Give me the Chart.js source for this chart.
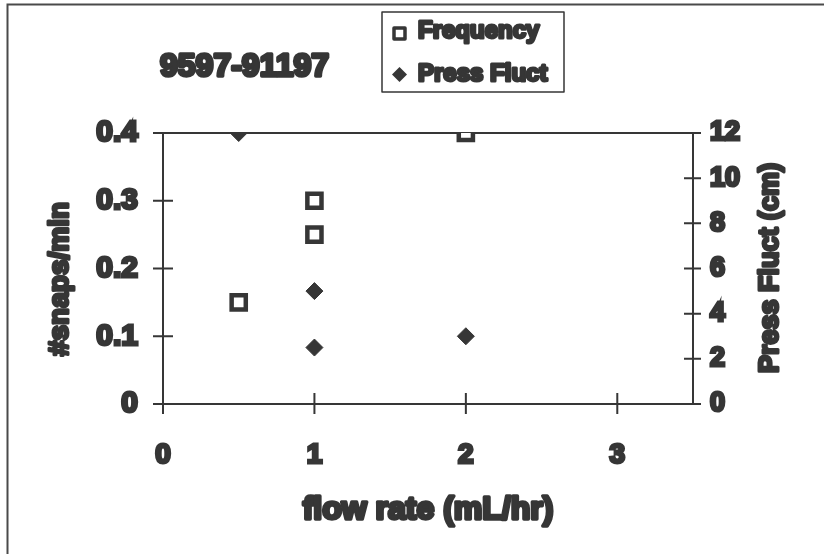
<!DOCTYPE html>
<html>
<head>
<meta charset="utf-8">
<script src="https://cdn.jsdelivr.net/npm/chart.js@4/dist/chart.umd.min.js"></script>
<style>
  html, body { margin: 0; padding: 0; background: #fff; }
  #wrap { width: 824px; height: 554px; position: relative; }
</style>
</head>
<body>
<div id="wrap"><canvas id="c" width="824" height="554"></canvas></div>
<script>
// Snap frequency and pressure fluctuation against flow rate
const flowFreq    = [0.5, 1, 1, 2];
const snapsPerMin = [0.15, 0.3, 0.25, 0.4];
const flowPress   = [0.5, 1, 1, 2];
const pressFluct  = [12, 5, 2.5, 3];

const xTickValues  = [0, 1, 2, 3];
const leftTickText = ['0', '0.1', '0.2', '0.3', '0.4'];
const rightTickValues = [0, 2, 4, 6, 8, 10, 12];

const chartTitle = '9597-91197';
const xTitle  = 'flow rate (mL/hr)';
const yTitle  = '#snaps/min';
const y2Title = 'Press Fluct (cm)';
const seriesNames = ['Frequency', 'Press Fluct'];

const INK = '#363636';
const FAMILY = '"Liberation Sans", Arial, sans-serif';

function heavyText(ctx, text, x, y, size, align, baseline, weight) {
  ctx.font = 'bold ' + size + 'px ' + FAMILY;
  ctx.textAlign = align;
  ctx.textBaseline = baseline;
  ctx.lineJoin = 'round';
  ctx.lineWidth = weight || 3;
  ctx.strokeStyle = INK;
  ctx.fillStyle = INK;
  ctx.strokeText(text, x, y);
  ctx.fillText(text, x, y);
}

// Box outline with ticks that cross the axis lines
const axesFrame = {
  id: 'axesFrame',
  beforeDatasetsDraw(chart) {
    const { ctx, chartArea: a, scales } = chart;
    ctx.save();
    ctx.strokeStyle = INK;
    ctx.lineWidth = 2;
    ctx.lineCap = 'square';
    ctx.strokeRect(a.left, a.top, a.right - a.left, a.bottom - a.top);
    ctx.beginPath();
    scales.x.ticks.forEach(t => {
      const px = scales.x.getPixelForValue(t.value);
      ctx.moveTo(px, a.bottom - (t.value === 0 ? 0 : 10));
      ctx.lineTo(px, a.bottom + 9);
    });
    scales.y.ticks.forEach(t => {
      const py = scales.y.getPixelForValue(t.value);
      ctx.moveTo(a.left - 9, py);
      ctx.lineTo(a.left + (py > a.top + 1 && py < a.bottom - 1 ? 9 : 0), py);
    });
    scales.y2.ticks.forEach(t => {
      const py = scales.y2.getPixelForValue(t.value);
      const inner = py > a.top + 1 && py < a.bottom - 1;
      ctx.moveTo(a.right - (inner ? 8 : 0), py);
      ctx.lineTo(a.right + 7, py);
    });
    ctx.stroke();
    ctx.restore();
  },
  afterDraw(chart) {
    const { ctx, chartArea: a } = chart;
    ctx.save();

    // outer page frame
    ctx.strokeStyle = '#4a4a4a';
    ctx.lineWidth = 2;
    ctx.beginPath();
    ctx.moveTo(7.5, 554);
    ctx.lineTo(7.5, 4.5);
    ctx.lineTo(824, 4.5);
    ctx.stroke();

    // run title
    heavyText(ctx, chartTitle, 160, 76, 32, 'left', 'alphabetic', 3.5);

    // axis titles
    heavyText(ctx, xTitle, (a.left + a.right) / 2, 510, 32, 'center', 'middle', 3.5);
    ctx.save();
    ctx.translate(60, 279);
    ctx.rotate(-Math.PI / 2);
    heavyText(ctx, yTitle, 0, 0, 28, 'center', 'middle', 3);
    ctx.restore();
    ctx.save();
    ctx.translate(771, 268);
    ctx.rotate(-Math.PI / 2);
    heavyText(ctx, y2Title, 0, 0, 27, 'center', 'middle', 3);
    ctx.restore();

    // legend box
    ctx.strokeStyle = INK;
    ctx.lineWidth = 1.5;
    ctx.strokeRect(382, 12, 182, 80);
    const ds = chart.data.datasets;
    // square marker
    ctx.lineWidth = 3.5;
    ctx.strokeStyle = ds[0].borderColor;
    ctx.fillStyle = ds[0].backgroundColor;
    ctx.fillRect(394, 28, 11, 11);
    ctx.strokeRect(394, 28, 11, 11);
    // diamond marker
    ctx.fillStyle = ds[1].backgroundColor;
    ctx.beginPath();
    ctx.moveTo(399.5, 67);
    ctx.lineTo(407, 74.5);
    ctx.lineTo(399.5, 82);
    ctx.lineTo(392, 74.5);
    ctx.closePath();
    ctx.fill();
    heavyText(ctx, ds[0].label, 418, 38, 24, 'left', 'alphabetic', 3);
    heavyText(ctx, ds[1].label, 418, 81, 24, 'left', 'alphabetic', 3);

    ctx.restore();
  }
};

const tickFont = size => ({ family: FAMILY, size: size, weight: 'bold' });

new Chart(document.getElementById('c'), {
  type: 'scatter',
  data: {
    datasets: [
      {
        label: seriesNames[0],
        data: flowFreq.map((x, i) => ({ x: x, y: snapsPerMin[i] })),
        yAxisID: 'y',
        pointStyle: 'rect',
        pointRadius: 10,
        pointHoverRadius: 10,
        borderWidth: 4.5,
        borderColor: INK,
        backgroundColor: '#ffffff'
      },
      {
        label: seriesNames[1],
        data: flowPress.map((x, i) => ({ x: x, y: pressFluct[i] })),
        yAxisID: 'y2',
        pointStyle: 'rectRot',
        pointRadius: 8.5,
        pointHoverRadius: 8.5,
        borderWidth: 1,
        borderColor: INK,
        backgroundColor: INK
      }
    ]
  },
  options: {
    responsive: false,
    devicePixelRatio: 1,
    animation: false,
    layout: { padding: { top: 133, left: 0, right: 0, bottom: 0 } },
    plugins: { legend: { display: false }, tooltip: { enabled: false } },
    scales: {
      x: {
        type: 'linear',
        position: 'bottom',
        min: 0,
        max: 3.5,
        afterBuildTicks: s => { s.ticks = xTickValues.map(v => ({ value: v })); },
        afterFit: s => { s.height = 150; },
        grid: { display: false, drawTicks: false },
        border: { display: false },
        ticks: {
          padding: 34,
          color: INK,
          font: tickFont(28),
          textStrokeColor: INK,
          textStrokeWidth: 3,
          callback: v => String(v)
        }
      },
      y: {
        type: 'linear',
        position: 'left',
        min: 0,
        max: 0.4,
        afterBuildTicks: s => { s.ticks = leftTickText.map(t => ({ value: Number(t) })); },
        afterFit: s => { s.width = 163; },
        grid: { display: false, drawTicks: false },
        border: { display: false },
        ticks: {
          padding: 25,
          color: INK,
          font: tickFont(30),
          textStrokeColor: INK,
          textStrokeWidth: 3,
          callback: (v, i) => leftTickText[i]
        }
      },
      y2: {
        type: 'linear',
        position: 'right',
        min: 0,
        max: 12,
        afterBuildTicks: s => { s.ticks = rightTickValues.map(v => ({ value: v })); },
        afterFit: s => { s.width = 131; },
        grid: { display: false, drawTicks: false },
        border: { display: false },
        ticks: {
          padding: 17,
          color: INK,
          font: tickFont(27),
          textStrokeColor: INK,
          textStrokeWidth: 3,
          callback: v => String(v)
        }
      }
    }
  },
  plugins: [axesFrame]
});
</script>
</body>
</html>
